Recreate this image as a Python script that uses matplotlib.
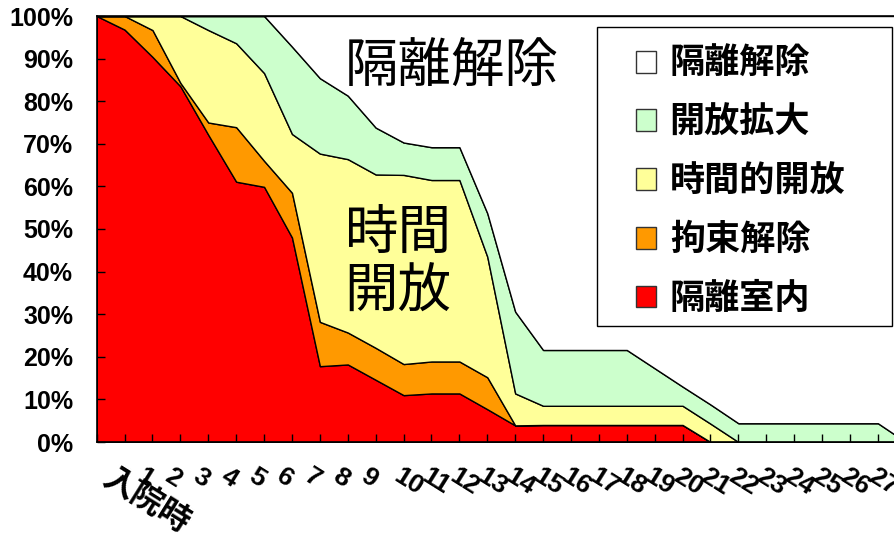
import matplotlib
matplotlib.use("Agg")
import matplotlib.pyplot as plt
import matplotlib.transforms as mtransforms
from matplotlib.patches import Patch, Rectangle

plt.rcParams['font.family'] = ['Liberation Sans', 'Noto Sans CJK JP', 'DejaVu Sans']

# categories on the x axis
categories = ['入院時', '1', '2', '3', '4', '5', '6', '7', '8', '9', '10',
              '11', '12', '13', '14', '15', '16', '17', '18', '19', '20',
              '21', '22', '23', '24', '25', '26', '27', '28', '29']

# share of patients (%) in each state
seclusion = [100, 96.8, 90.4, 83.5, 72.1, 61.1, 59.9, 48.0, 17.8, 18.2,
             14.6, 11.0, 11.4, 11.4, 7.7, 3.9, 4.0, 4.0, 4.0, 4.0,
             4.0, 4.0, 0, 0, 0, 0, 0, 0, 0, 0]
restraint_off = [0, 3.2, 6.3, 0.8, 2.9, 12.8, 6.1, 10.5, 10.4, 7.5,
                 7.5, 7.3, 7.5, 7.5, 7.5, 0, 0, 0, 0, 0,
                 0, 0, 0, 0, 0, 0, 0, 0, 0, 0]
temp_open = [0, 0, 3.3, 15.7, 21.7, 19.7, 20.6, 13.8, 39.5, 40.7,
             40.7, 44.4, 42.6, 42.6, 28.3, 7.5, 4.5, 4.5, 4.5, 4.5,
             4.5, 4.5, 4.3, 0, 0, 0, 0, 0, 0, 0]
open_more = [0, 0, 0, 0, 3.3, 6.4, 13.4, 20.5, 17.7, 14.9,
             11.0, 7.6, 7.7, 7.7, 10.2, 19.2, 13.1, 13.1, 13.1, 13.1,
             8.8, 4.5, 4.5, 4.4, 4.4, 4.4, 4.4, 4.4, 4.4, 0]
released = [0, 0, 0, 0, 0, 0, 0, 7.2, 14.6, 18.7,
            26.2, 29.7, 30.8, 30.8, 46.3, 69.4, 78.4, 78.4, 78.4, 78.4,
            82.7, 87.0, 91.2, 95.6, 95.6, 95.6, 95.6, 95.6, 95.6, 100]

series_names = ['隔離室内', '拘束解除', '時間的開放', '開放拡大', '隔離解除']
colors = ['#FF0000', '#FF9900', '#FFFF99', '#CCFFCC', '#FFFFFF']
y_labels = ['0%', '10%', '20%', '30%', '40%', '50%', '60%', '70%', '80%', '90%', '100%']

W, H = 895, 534
fig = plt.figure(figsize=(W / 100, H / 100), dpi=100)
# plot area runs a little past the right edge, as in the original
ax = fig.add_axes([96.7 / W, 92 / H, (905.8 - 96.7) / W, 426 / H])

x = list(range(len(categories)))
ax.stackplot(x, seclusion, restraint_off, temp_open, open_more, released,
             colors=colors, edgecolor='black', linewidth=1)

ax.set_xlim(0, len(categories) - 1)
ax.set_ylim(0, 100)
ax.set_yticks(range(0, 101, 10))
ax.set_yticklabels(y_labels, fontsize=18, fontweight='bold')
ax.set_xticks(x)
ax.set_xticklabels(categories, fontsize=19, fontweight='bold')
ax.tick_params(axis='both', direction='in', length=6, width=1, color='black')
ax.tick_params(axis='y', pad=17)
ax.tick_params(axis='x', pad=0)
for s in ['left', 'bottom', 'top']:
    ax.spines[s].set_linewidth(1.2)
ax.spines['right'].set_visible(False)

for i, lab in enumerate(ax.get_xticklabels()):
    lab.set_rotation(-32)
    lab.set_rotation_mode('anchor')
    lab.set_ha('left')
    lab.set_va('top')
    if i == 0:
        lab.set_fontsize(23)
        dx, dy = 17, -20
    elif len(lab.get_text()) == 1:
        dx, dy = 21, -22
    else:
        dx, dy = 27, -22
    off = mtransforms.ScaledTranslation(dx / 100, dy / 100, fig.dpi_scale_trans)
    lab.set_transform(lab.get_transform() + off)

# labels inside the chart
fig.text(452 / W, 1 - 67 / H, '隔離解除', fontsize=38.5, family='Noto Sans CJK JP',
         ha='center', va='center')
fig.text(398 / W, 1 - 263 / H, '時間\n開放', fontsize=38.5, family='Noto Sans CJK JP',
         ha='center', va='center', linespacing=1.08)

# legend box
fig.patches.append(Rectangle((597 / W, 1 - 326 / H), 295 / W, 299 / H,
                             transform=fig.transFigure, facecolor='white',
                             edgecolor='black', linewidth=1))
handles = [Patch(facecolor=c, edgecolor='#333333', linewidth=1) for c in colors[::-1]]
fig.legend(handles, series_names[::-1], loc='upper left',
           bbox_to_anchor=(636 / W, 1 - 46 / H), frameon=False,
           prop={'family': 'Noto Sans CJK JP', 'weight': 'bold', 'size': 25.3},
           handlelength=0.58, handleheight=0.58, handletextpad=0.38,
           labelspacing=0.675, borderpad=0, borderaxespad=0)

fig.savefig('out.png', dpi=100)
